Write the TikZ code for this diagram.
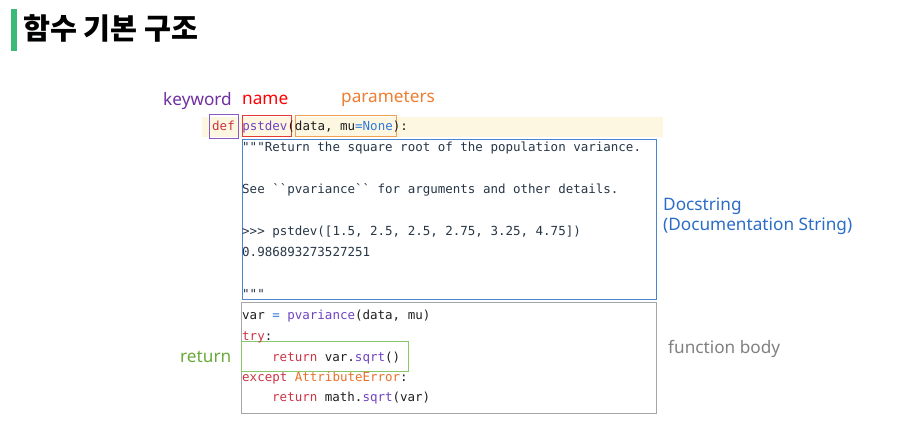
\documentclass[tikz,border=0pt]{standalone}
\usepackage{fontspec}
\setmainfont{Noto Sans}
\setmonofont{DejaVu Sans Mono}
\newfontfamily\krfont{Noto Sans CJK KR}
\definecolor{titlegreen}{HTML}{3CB878}
\definecolor{kwpurple}{HTML}{7030A0}
\definecolor{namered}{HTML}{FF0000}
\definecolor{parorange}{HTML}{ED7D31}
\definecolor{doclabel}{HTML}{2B6CC8}
\definecolor{bodygray}{HTML}{808080}
\definecolor{retgreen}{HTML}{6AAA3A}
\definecolor{barcream}{HTML}{FDF7E2}
\definecolor{defbox}{HTML}{8A5CC7}
\definecolor{namebox}{HTML}{E53935}
\definecolor{parbox}{HTML}{F0A050}
\definecolor{docbox}{HTML}{4A86D0}
\definecolor{bodybox}{HTML}{A6A6A6}
\definecolor{retbox}{HTML}{8CC66A}
\definecolor{codetxt}{HTML}{1E1E1E}
\definecolor{doctxt}{HTML}{263646}
\definecolor{ckw}{HTML}{CC3344}
\definecolor{cfn}{HTML}{6F42C1}
\definecolor{cop}{HTML}{2F7BDD}
\definecolor{ccls}{HTML}{E8702A}
\newcommand{\kw}[1]{\textcolor{ckw}{#1}}
\newcommand{\fn}[1]{\textcolor{cfn}{#1}}
\newcommand{\op}[1]{\textcolor{cop}{#1}}
\newcommand{\cls}[1]{\textcolor{ccls}{#1}}
\begin{document}
\begin{tikzpicture}[x=1pt,y=-1pt,
  lbl/.style={inner sep=0pt, anchor=base west, font=\fontsize{17.2}{20}\selectfont},
  code/.style={inner sep=0pt, anchor=base west, font=\fontsize{12.5}{15}\ttfamily\selectfont, text=codetxt},
  doc/.style={code, text=doctxt},
  frame/.style={draw, line width=1pt, inner sep=0pt, outer sep=0pt, anchor=north west}]
\useasboundingbox (0,0) rectangle (903,429);
% title
\fill[titlegreen] (11,9) rectangle (16.5,51);
\node[inner sep=0pt, anchor=west, font=\krfont\bfseries\fontsize{29.3}{34}\selectfont] (title) at (23,28) {함수 기본 구조};
% highlight bar of def line
\node[fill=barcream, inner sep=0pt, outer sep=0pt, anchor=north west, minimum width=461pt, minimum height=20pt] (bar) at (202,117) {};
% frames
\node[frame, draw=defbox, minimum width=29pt, minimum height=24pt] (defframe) at (209,114) {};
\node[frame, draw=namebox, minimum width=49pt, minimum height=21pt] (nameframe) at (242,115.5) {};
\node[frame, draw=parbox, minimum width=101pt, minimum height=21pt] (parframe) at (295,115.5) {};
\node[frame, draw=docbox, minimum width=414pt, minimum height=160pt] (docframe) at (242,139) {};
\node[frame, draw=bodybox, minimum width=415pt, minimum height=111pt] (bodyframe) at (241,302) {};
\node[frame, draw=retbox, minimum width=167pt, minimum height=30pt] (retframe) at (241,341) {};
% labels
\node[lbl, text=kwpurple] (kwlbl) at (163,105) {keyword};
\node[lbl, text=namered] (namelbl) at (242,104) {name};
\node[lbl, text=parorange] (parlbl) at (341,102) {parameters};
\node[lbl, text=doclabel] (doclbla) at (663,210) {Docstring};
\node[lbl, text=doclabel] (doclblb) at (663,230) {(Documentation String)};
\node[lbl, text=bodygray] (bodylbl) at (668,353) {function body};
\node[lbl, text=retgreen] (retlbl) at (180,362) {return};
% code
\node[code] (c1) at (212,130.5) {\kw{def} \fn{pstdev}(data, mu\op{=None}):};
\node[doc] (d1) at (242,151.5) {"""Return the square root of the population variance.};
\node[doc] (d2) at (242,193.5) {See ``pvariance`` for arguments and other details.};
\node[doc] (d3) at (242,235.5) {>>> pstdev([1.5, 2.5, 2.5, 2.75, 3.25, 4.75])};
\node[doc] (d4) at (242,256.5) {0.986893273527251};
\node[doc] (d5) at (242,298) {"""};
\node[code] (b1) at (242,319.5) {var \op{=} \fn{pvariance}(data, mu)};
\node[code] (b2) at (242,340.5) {\kw{try}:};
\node[code] (b3) at (272,361.5) {\kw{return} var.\fn{sqrt}()};
\node[code] (b4) at (242,381.5) {\kw{except} \cls{AttributeError}:};
\node[code] (b5) at (272,401.5) {\kw{return} math.\fn{sqrt}(var)};
\end{tikzpicture}
\end{document}
